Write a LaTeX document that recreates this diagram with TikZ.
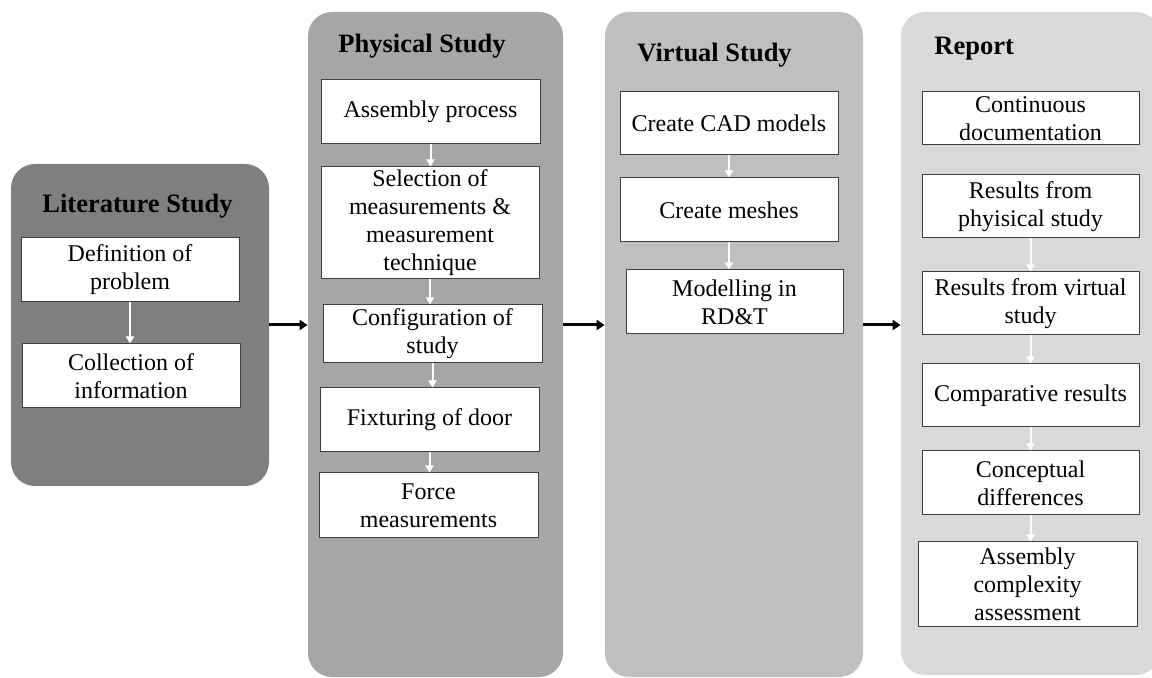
\documentclass[tikz,border=0pt]{standalone}
\usepackage{fontspec}
\setmainfont{Liberation Serif}
\usetikzlibrary{arrows.meta}
\definecolor{litgray}{HTML}{7F7F7F}
\definecolor{physgray}{HTML}{A6A6A6}
\definecolor{virtgray}{HTML}{BFBFBF}
\definecolor{repgray}{HTML}{D9D9D9}
\begin{document}
\begin{tikzpicture}[x=0.5pt, y=-0.5pt,
    panel/.style={rectangle, rounded corners=12pt, inner sep=0pt},
    phase/.style={anchor=base west, inner sep=0pt, font=\fontsize{13.25}{15}\selectfont\bfseries},
    box/.style={draw=black!75, fill=white, line width=0.5pt, align=center, inner sep=0pt,
        font=\fontsize{12}{14}\selectfont},
    whitearrow/.style={draw=white, line width=1pt, -{Triangle[length=3.5pt,width=4pt]}},
    flowarrow/.style={line width=1.5pt, -{Triangle[length=4pt,width=5pt]}}]
    \useasboundingbox (0,0) rectangle (1152,678);
    \clip (0,0) rectangle (1152,678);
    \node[panel, fill=litgray, minimum width=129pt, minimum height=161pt] (lit) at (140,325) {};
    \node[panel, fill=physgray, minimum width=127.5pt, minimum height=332.5pt] (phys) at (435.5,344.5) {};
    \node[panel, fill=virtgray, minimum width=129pt, minimum height=332.5pt] (virt) at (734,344.5) {};
    \node[panel, fill=repgray, minimum width=129.5pt, minimum height=331.5pt] (rep) at (1030.5,343.5) {};
    \node[phase] at (42,213) {Literature Study};
    \node[phase] at (338,53) {Physical Study};
    \node[phase] at (637,62) {Virtual Study};
    \node[phase] at (934,55) {Report};
    \node[box, minimum width=109pt, minimum height=32pt] (lA) at (130,270) {Definition of\\problem};
    \node[box, minimum width=109pt, minimum height=32pt] (lB) at (131,376) {Collection of\\information};
    \node[box, minimum width=109.5pt, minimum height=32pt] (pA) at (430.5,112) {Assembly process};
    \node[box, minimum width=109pt, minimum height=56pt] (pB) at (430,223) {Selection of\\measurements \&\\measurement\\technique};
    \node[box, minimum width=109.5pt, minimum height=29pt] (pC) at (432.5,334) {Configuration of\\study};
    \node[box, minimum width=109.5pt, minimum height=32pt] (pD) at (429.5,420) {Fixturing of door};
    \node[box, minimum width=109.5pt, minimum height=32.5pt] (pE) at (428.5,505.5) {Force\\measurements};
    \node[box, minimum width=109pt, minimum height=31.5pt] (vA) at (729,123.5) {Create CAD models};
    \node[box, minimum width=109pt, minimum height=32pt] (vB) at (729,210) {Create meshes};
    \node[box, minimum width=108.5pt, minimum height=32pt] (vC) at (734.5,302) {Modelling in\\RD\&T};
    \node[box, minimum width=108.5pt, minimum height=26.5pt] (rA) at (1030.5,118.5) {Continuous\\documentation};
    \node[box, minimum width=108.5pt, minimum height=31.5pt] (rB) at (1030.5,206.5) {Results from\\phyisical study};
    \node[box, minimum width=108.5pt, minimum height=31.5pt] (rC) at (1030.5,303.5) {Results from virtual\\study};
    \node[box, minimum width=108.5pt, minimum height=31.5pt] (rD) at (1030.5,395.5) {Comparative results};
    \node[box, minimum width=108.5pt, minimum height=32pt] (rE) at (1030.5,483) {Conceptual\\differences};
    \node[box, minimum width=109.5pt, minimum height=42.5pt] (rF) at (1027.5,584.5) {Assembly\\complexity\\assessment};
    \draw[whitearrow] (lA.south) -- (lA.south |- lB.north);
    \draw[whitearrow] (pA.south) -- (pA.south |- pB.north);
    \draw[whitearrow] (pB.south) -- (pB.south |- pC.north);
    \draw[whitearrow] (pC.south) -- (pC.south |- pD.north);
    \draw[whitearrow] (pD.south) -- (pD.south |- pE.north);
    \draw[whitearrow] (vA.south) -- (vA.south |- vB.north);
    \draw[whitearrow] (vB.south) -- (vB.south |- vC.north);
    \draw[whitearrow] (rB.south) -- (rB.south |- rC.north);
    \draw[whitearrow] (rC.south) -- (rC.south |- rD.north);
    \draw[whitearrow] (rD.south) -- (rD.south |- rE.north);
    \draw[whitearrow] (rE.south) -- (rE.south |- rF.north);
    \draw[flowarrow] (lit.east) -- (phys.west |- lit.east);
    \draw[flowarrow] (phys.east |- lit.east) -- (virt.west |- lit.east);
    \draw[flowarrow] (virt.east |- lit.east) -- (rep.west |- lit.east);
\end{tikzpicture}
\end{document}
